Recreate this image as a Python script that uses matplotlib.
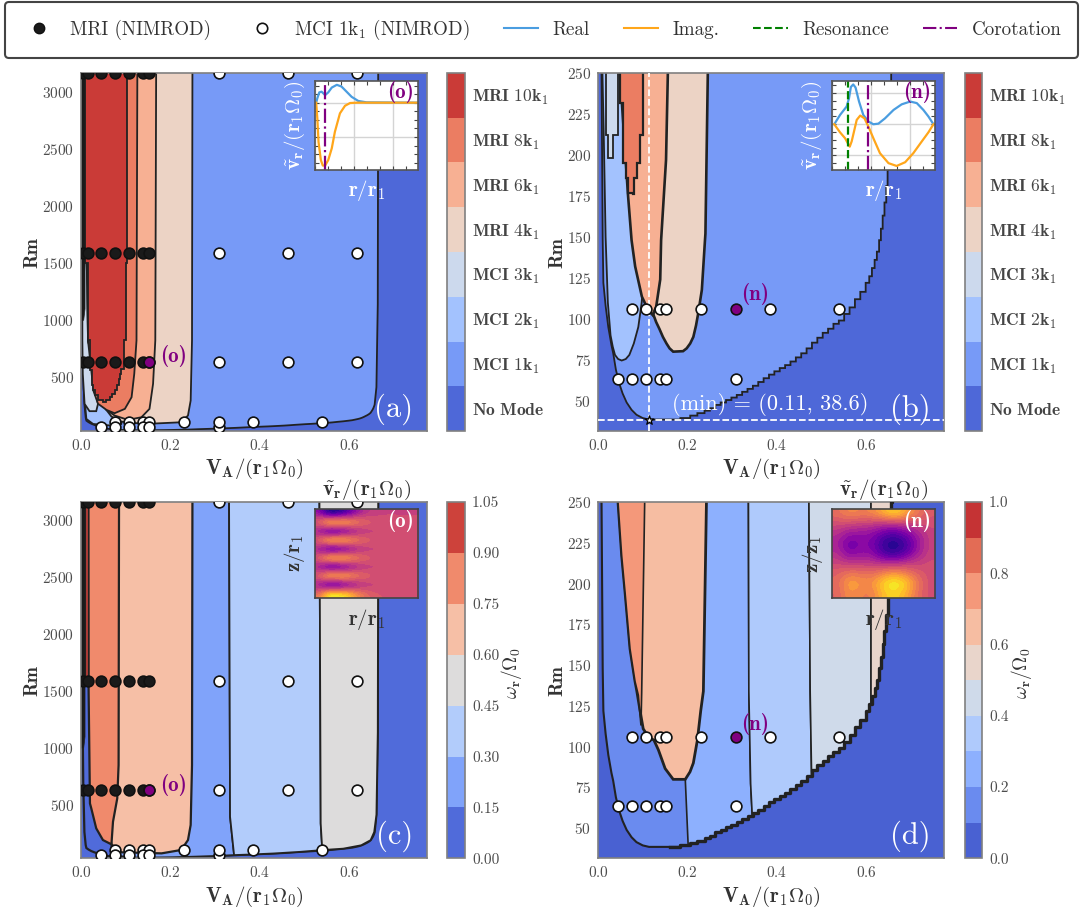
import numpy as np
import matplotlib
matplotlib.use("Agg")
import matplotlib.pyplot as plt
from matplotlib.cm import ScalarMappable
from matplotlib.colors import BoundaryNorm, ListedColormap
from matplotlib.lines import Line2D
from matplotlib.ticker import AutoMinorLocator

plt.rcParams['font.family'] = 'cmr10'
plt.rcParams['mathtext.fontset'] = 'cm'
plt.rcParams['axes.formatter.use_mathtext'] = True
plt.rcParams['axes.unicode_minus'] = False

# sample points, (VA, Rm)
rm_rows_high = [3162, 1585, 631]
va_mri = [0.004, 0.015, 0.045, 0.077, 0.107, 0.138, 0.153]
va_mci_high = [0.308, 0.462, 0.616]
va_row106 = [0.077, 0.107, 0.138, 0.153, 0.231, 0.385, 0.539]
va_row63 = [0.045, 0.077, 0.107, 0.138, 0.153, 0.308]
rm_row106 = 106
rm_row63 = 63.5
point_o = (0.153, 631)
point_n = (0.308, 106)
rm_min = (0.113, 38.6)

# edge of the unstable domain (a) and (b)
outer_left = [(0.002, 3300), (0.003, 1500), (0.005, 700), (0.0076, 262), (0.0105, 148), (0.012, 122),
              (0.017, 108), (0.023, 95), (0.03, 84), (0.034, 79), (0.04, 69), (0.047, 61), (0.055, 54.5), (0.064, 49),
              (0.075, 44.5), (0.086, 41.5), (0.1, 39.5), (0.114, 38.6)]
outer_right = [(0.161, 38.6), (0.184, 39.5), (0.206, 41), (0.222, 42.5), (0.238, 44), (0.25, 45.5), (0.262, 47.5),
               (0.274, 49), (0.286, 50.5), (0.298, 52), (0.31, 53.6), (0.322, 55.5), (0.334, 57.3), (0.346, 59.2),
               (0.358, 61.5), (0.37, 63.8), (0.382, 66), (0.394, 68), (0.406, 70), (0.418, 71.8), (0.43, 74),
               (0.442, 76.5), (0.454, 79), (0.466, 82), (0.478, 85.5), (0.49, 88.5), (0.502, 91.5), (0.514, 94),
               (0.526, 97), (0.538, 99), (0.55, 103), (0.562, 107), (0.574, 112), (0.586, 116.5), (0.598, 122),
               (0.606, 126), (0.612, 131), (0.618, 136), (0.623, 141), (0.628, 148), (0.632, 155), (0.636, 163),
               (0.64, 171), (0.644, 181), (0.647, 191), (0.649, 203), (0.651, 215), (0.653, 230), (0.655, 250),
               (0.656, 262)]
outer_high = [(0.66, 415), (0.663, 1140), (0.664, 3300)]

# panel (a), Rm up to 3162
a_3k = [(0.003, 1800), (0.003, 824), (0.004, 532), (0.008, 269), (0.019, 205), (0.034, 205), (0.038, 269),
        (0.03, 400), (0.012, 1500), (0.006, 1800)]
a_2k = [(0.003, 3300), (0.004, 1200), (0.006, 400), (0.012, 137), (0.027, 93), (0.068, 79), (0.09, 93),
        (0.1, 300), (0.02, 1000), (0.006, 3300)]
a_4k = [(0.249, 3300), (0.248, 824), (0.245, 298), (0.239, 167), (0.224, 108), (0.142, 93), (0.09, 114),
        (0.068, 158), (0.05, 250), (0.0156, 824), (0.01, 3300)]
a_6k = [(0.168, 3300), (0.166, 824), (0.161, 444), (0.153, 225), (0.135, 152), (0.105, 129), (0.075, 167),
        (0.057, 216), (0.05, 300), (0.0156, 824), (0.008, 3300)]
a_8k = [(0.126, 3300), (0.124, 824), (0.119, 532), (0.113, 327), (0.098, 225), (0.075, 187), (0.057, 216),
        (0.038, 270), (0.028, 380), (0.0156, 824), (0.008, 3300)]
a_10k_left = [(0.008, 3300), (0.008, 2750), (0.009, 1500), (0.0156, 824), (0.019, 561), (0.024, 430),
              (0.027, 386), (0.032, 345), (0.038, 304), (0.049, 289)]
a_10k_right = [(0.049, 289), (0.056, 300), (0.064, 327), (0.07, 355), (0.075, 386), (0.08, 430), (0.084, 488),
               (0.088, 530), (0.09, 576), (0.096, 824), (0.1, 1500), (0.102, 3300)]

# panel (b), Rm up to 250
b_2k = [(0.009, 262), (0.013, 210), (0.017, 150), (0.022, 110), (0.028, 90), (0.033, 83), (0.038, 78), (0.045, 75.5),
        (0.053, 74.6), (0.062, 75.5), (0.07, 78), (0.08, 85), (0.09, 95), (0.0976, 110), (0.105, 140), (0.06, 262)]
b_3k = [(0.017, 262), (0.017, 212), (0.023, 212), (0.023, 198), (0.034, 198), (0.034, 212), (0.044, 212), (0.044, 262)]
b_4k = [(0.246, 262), (0.24, 152), (0.239, 148), (0.232, 117.7), (0.224, 103.6), (0.219, 96), (0.213, 89),
        (0.206, 85), (0.198, 82), (0.19, 80.3), (0.168, 80), (0.16, 82), (0.153, 85), (0.145, 89), (0.137, 94),
        (0.13, 98), (0.124, 102.4), (0.13, 262)]
b_6k = [(0.157, 262), (0.152, 197), (0.141, 148), (0.139, 124), (0.13, 107.5), (0.122, 102.4), (0.112, 105.5),
        (0.098, 113.6), (0.083, 132), (0.075, 148), (0.0669, 176), (0.0461, 262)]
b_8k = [(0.0461, 262), (0.0492, 231.5), (0.0553, 194.9), (0.063, 185.8), (0.0669, 176.7), (0.0785, 176),
        (0.08, 185.8), (0.0862, 194.9), (0.0939, 212.2), (0.1, 231.5), (0.1016, 262)]

# panel (c), regions sharing the outer edge
c_15 = [(0.342, 60), (0.31, 53.6), (0.257, 46.5), (0.206, 41), (0.161, 38.6), (0.114, 38.6), (0.068, 60),
        (0.068, 154), (0.1, 300), (0.2, 3300), (0.3307, 3300), (0.333, 397)]
c_30 = [(0.3307, 3300), (0.333, 397), (0.342, 60), (0.37, 63.8), (0.43, 74), (0.49, 88.5), (0.539, 104),
        (0.5355, 338), (0.5326, 3300)]
c_45 = [(0.5326, 3300), (0.5355, 338), (0.539, 104), (0.586, 116.5), (0.626, 146), (0.647, 191), (0.655, 262),
        (0.66, 415), (0.663, 1140), (0.664, 3300)]
c_60 = [(0.249, 3300), (0.248, 851), (0.245, 324), (0.239, 192), (0.224, 105), (0.18, 75), (0.09, 84),
        (0.068, 154), (0.06, 300), (0.085, 3300)]
c_75 = [(0.0164, 3300), (0.017, 1509), (0.02, 514), (0.023, 470), (0.034, 295), (0.049, 192), (0.068, 154),
        (0.0715, 353), (0.081, 558), (0.084, 851), (0.085, 3300)]
c_90 = [(0.008, 3300), (0.008, 1600), (0.0164, 1600), (0.0164, 3300)]
c_dark = [(0.0, 3300), (0.009, 3300), (0.009, 1100), (0.006, 1000), (0.0, 1000)]

# panel (d), lower edges run below the outer stairs and get clipped to them
d_20 = [(0.202, 36), (0.195, 80), (0.17, 262), (0.336, 262), (0.337, 134), (0.341, 77.4), (0.346, 50),
        (0.31, 45), (0.257, 38)]
d_30 = [(0.336, 262), (0.337, 134), (0.341, 77.4), (0.346, 50), (0.382, 57), (0.43, 65), (0.478, 76),
        (0.477, 85.5), (0.474, 134), (0.471, 262)]
d_40 = [(0.471, 262), (0.474, 134), (0.477, 85.5), (0.478, 76), (0.526, 88), (0.574, 103), (0.61, 120), (0.61, 262)]
d_50 = [(0.61, 262), (0.61, 120), (0.67, 120), (0.67, 262)]
d_60 = [(0.243, 262), (0.2354, 134), (0.2295, 122), (0.222, 104), (0.213, 90), (0.2056, 84.6), (0.195, 80),
        (0.168, 80), (0.15, 86.6), (0.135, 98), (0.125, 104), (0.1125, 106), (0.101, 111), (0.094, 122),
        (0.0864, 134.6), (0.0827, 140), (0.0715, 160), (0.0603, 195), (0.0529, 217), (0.0417, 262)]
d_70 = [(0.0417, 262), (0.0529, 217), (0.0603, 195), (0.0715, 160), (0.0827, 140), (0.0901, 131.6), (0.096, 113),
        (0.0976, 133), (0.105, 262)]

# inset curves
o_r_real = [1.03, 1.06, 1.11, 1.17, 1.26, 1.34, 1.43, 1.56, 1.68, 1.81, 1.94, 2.11, 2.32, 3.65]
o_v_real = [0, 0.13, 0.30, 0.32, 0.22, 0.30, 0.44, 0.52, 0.47, 0.32, 0.17, 0.05, 0.01, 0]
o_r_imag = [1.03, 1.06, 1.09, 1.15, 1.2, 1.26, 1.34, 1.43, 1.51, 1.64, 1.77, 1.9, 2.07, 3.65]
o_v_imag = [0, -0.46, -1.14, -1.67, -1.83, -1.83, -1.67, -1.33, -0.85, -0.31, -0.09, -0.01, 0, 0]
o_corot = 1.26
n_r_real = [1.05, 1.2, 1.37, 1.43, 1.48, 1.54, 1.6, 1.69, 1.8, 1.93, 2.06, 2.19, 2.36, 2.58, 2.79, 3.01, 3.18, 3.35, 3.48, 3.61]
n_v_real = [0, 0.3, 0.57, 0.83, 1.2, 1.28, 1.18, 0.73, 0.3, 0.09, 0, 0.02, 0.19, 0.46, 0.64, 0.73, 0.68, 0.46, 0.25, 0]
n_r_imag = [1.05, 1.2, 1.33, 1.4, 1.45, 1.5, 1.57, 1.63, 1.72, 1.83, 1.93, 2.06, 2.23, 2.45, 2.66, 2.88, 3.09, 3.31, 3.48, 3.61]
n_v_imag = [0, -0.26, -0.45, -0.61, -0.72, -0.55, -0.18, 0.14, 0.28, 0.19, -0.07, -0.45, -0.93, -1.25, -1.34, -1.22, -0.93, -0.55, -0.26, 0]
n_reson = 1.4
n_corot = 1.91

# eigenmode maps
o_high = [0.65, 1.0, 1.0, 0.96, 0.8, 0.66, 0.58, 0.55, 0.54, 0.53, 0.53, 0.53]
o_low = [0.3, 0.0, 0.0, 0.1, 0.25, 0.4, 0.46, 0.48, 0.49, 0.49, 0.49, 0.49]
o_field = [o_low, o_high, o_low, o_high, o_low, o_high, o_low, o_high, o_low, o_high]
n_field = [[0.62, 0.72, 0.68, 0.70, 0.82, 0.92, 0.78, 0.66, 0.55],
           [0.52, 0.50, 0.48, 0.46, 0.42, 0.42, 0.46, 0.50, 0.52],
           [0.42, 0.32, 0.32, 0.30, 0.20, 0.15, 0.25, 0.36, 0.48],
           [0.38, 0.20, 0.28, 0.26, 0.08, 0.02, 0.12, 0.32, 0.48],
           [0.42, 0.26, 0.32, 0.30, 0.14, 0.08, 0.20, 0.36, 0.48],
           [0.50, 0.46, 0.46, 0.46, 0.42, 0.42, 0.46, 0.48, 0.52],
           [0.58, 0.66, 0.64, 0.62, 0.70, 0.76, 0.68, 0.58, 0.52],
           [0.60, 0.80, 0.74, 0.72, 0.92, 1.00, 0.90, 0.66, 0.52],
           [0.58, 0.74, 0.68, 0.66, 0.85, 0.90, 0.80, 0.62, 0.52]]

mode_labels = [r'$\mathbf{No\ Mode}$', r'$\mathbf{MCI\ 1k_1}$', r'$\mathbf{MCI\ 2k_1}$', r'$\mathbf{MCI\ 3k_1}$',
               r'$\mathbf{MRI\ 4k_1}$', r'$\mathbf{MRI\ 6k_1}$', r'$\mathbf{MRI\ 8k_1}$', r'$\mathbf{MRI\ 10k_1}$']
c_ticks = [0.0, 0.15, 0.30, 0.45, 0.60, 0.75, 0.90, 1.05]
d_ticks = [0.0, 0.2, 0.4, 0.6, 0.8, 1.0]
rm_ticks_a = [500, 1000, 1500, 2000, 2500, 3000]
rm_ticks_b = [50, 75, 100, 125, 150, 175, 200, 225, 250]
va_ticks = [0.0, 0.2, 0.4, 0.6]

W, H = 1080, 908
LINE = '#222222'
GREY = '#4d4d4d'
BLUE = '#4a9de0'
ORANGE = '#ffa61a'
PURPLE = '#800080'
VA_LABEL = r'$\mathbf{V_A/(r_1\Omega_0)}$'
VR_LABEL = r'$\mathbf{\tilde{v}_r/(r_1\Omega_0)}$'

fig = plt.figure(figsize=(W / 100, H / 100), dpi=100)


def px_axes(x0, y0, x1, y1):
    # pixel box, y measured from the top of the figure
    return fig.add_axes([x0 / W, 1 - y1 / H, (x1 - x0) / W, (y1 - y0) / H])


def stairs(points):
    out = [points[0]]
    for (x0, y0), (x1, y1) in zip(points[:-1], points[1:]):
        out.append((x1, y0))
        out.append((x1, y1))
    return out


def region(ax, points, color, lw=1.3, clip=None):
    xs, ys = zip(*points)
    poly = ax.fill(xs, ys, facecolor=color, edgecolor=LINE, linewidth=lw, joinstyle='miter')[0]
    if clip is not None:
        poly.set_clip_path(clip)
    return poly


def main_axes(box, cmap, ylim, yticks):
    ax = px_axes(*box)
    ax.set_facecolor(cmap(0))
    ax.set_xlim(0, 0.773)
    ax.set_ylim(*ylim)
    ax.set_xticks(va_ticks)
    ax.set_yticks(yticks)
    ax.tick_params(length=0, labelsize=11, labelcolor=GREY, pad=5)
    for s in ax.spines.values():
        s.set_color('#808080')
        s.set_linewidth(1.2)
    ax.set_xlabel(VA_LABEL, fontsize=15, color='#333333', labelpad=3)
    ax.set_ylabel('Rm', fontsize=14, color='#333333', fontname='cmb10', labelpad=0.5)
    return ax


def dots(ax, xs, ys, face):
    ax.scatter(xs, ys, s=60, c=face, edgecolors='#111111', linewidths=1.2, zorder=5)


def points_low(ax, purple_row=True):
    dots(ax, va_row106, [rm_row106] * len(va_row106), 'white')
    dots(ax, va_row63, [rm_row63] * len(va_row63), 'white')
    if purple_row:
        dots(ax, [point_n[0]], [point_n[1]], PURPLE)


def points_high(ax):
    for rm in rm_rows_high:
        dots(ax, va_mri, [rm] * len(va_mri), '#1a1a1a')
        dots(ax, va_mci_high, [rm] * len(va_mci_high), 'white')
    points_low(ax, False)
    dots(ax, [point_n[0]], [rm_row106], 'white')
    dots(ax, [point_o[0]], [point_o[1]], PURPLE)


def panel_letter(ax, text):
    ax.text(0.96, 0.062, text, transform=ax.transAxes, ha='right', va='center', color='white', fontsize=22, zorder=7)


def tag(ax, x, y, text):
    ax.text(x, y, text, color=PURPLE, fontsize=15, fontname='cmb10', ha='center', va='center', zorder=7)


def colorbar(ax_box, cmap, bounds, ticks, labels=None, label=None):
    cax = px_axes(*ax_box)
    sm = ScalarMappable(norm=BoundaryNorm(bounds, cmap.N), cmap=cmap)
    cb = fig.colorbar(sm, cax=cax, spacing='proportional', ticks=ticks)
    cb.ax.minorticks_off()
    cb.outline.set_edgecolor('#808080')
    cb.outline.set_linewidth(1.2)
    cb.ax.tick_params(which='both', length=0, labelsize=11, labelcolor=GREY, pad=5)
    if labels is not None:
        cb.ax.set_yticklabels(labels, fontsize=12.6, color='#444444')
    else:
        cb.ax.set_yticklabels(['%.2f' % t if len(bounds) == 8 else '%.1f' % t for t in ticks])
    if label:
        cb.set_label(label, fontsize=14, color='#333333', labelpad=0, y=0.52)
    return cb


def line_inset(box, r_real, v_real, r_imag, v_imag, ylim, yticks, label, corot, reson=None):
    ax = px_axes(*box)
    ax.set_zorder(10)
    ax.set_facecolor('white')
    ax.set_xlim(1, 3.65)
    ax.set_ylim(*ylim)
    ax.set_xticks([1, 2, 3])
    ax.set_yticks(yticks)
    ax.set_xticklabels([])
    ax.set_yticklabels([])
    ax.xaxis.set_minor_locator(AutoMinorLocator(3))
    ax.yaxis.set_minor_locator(AutoMinorLocator(4))
    ax.tick_params(which='both', direction='in', top=True, right=True, color='#444444', length=3, width=0.8)
    ax.grid(True, color='#d4d4d4', linewidth=1)
    ax.set_axisbelow(True)
    ax.plot(r_real, v_real, color=BLUE, lw=1.6)
    ax.plot(r_imag, v_imag, color=ORANGE, lw=1.6)
    if reson is not None:
        ax.axvline(reson, color='green', ls='--', lw=1.6)
    ax.axvline(corot, color=PURPLE, ls='-.', lw=1.6)
    for s in ax.spines.values():
        s.set_color('#555555')
        s.set_linewidth(1.2)
    ax.text(0.96, 0.87, label, transform=ax.transAxes, ha='right', va='center', color=PURPLE, fontsize=15, fontname='cmb10')
    ax.text(-0.195, 0.5, VR_LABEL, transform=ax.transAxes, rotation=90, ha='center', va='center', color='white', fontsize=15, zorder=20)
    ax.text(0.5, -0.225, r'$\mathbf{r/r_1}$', transform=ax.transAxes, ha='center', va='center', color='white', fontsize=15, zorder=20)
    return ax


def field_inset(box, field, label, ylab):
    ax = px_axes(*box)
    ax.set_zorder(10)
    ax.imshow(field, cmap=plt.get_cmap('plasma', 22), vmin=0, vmax=1, aspect='auto',
              interpolation='bicubic', interpolation_stage='data')
    ax.set_xticks([])
    ax.set_yticks([])
    for s in ax.spines.values():
        s.set_color('#444444')
        s.set_linewidth(1.2)
    ax.text(0.96, 0.87, label, transform=ax.transAxes, ha='right', va='center', color='white', fontsize=15, fontname='cmb10')
    ax.text(0.5, 1.22, VR_LABEL, transform=ax.transAxes, ha='center', va='center', color='#333333', fontsize=15, zorder=20)
    ax.text(-0.195, 0.5, ylab, transform=ax.transAxes, rotation=90, ha='center', va='center', color='#333333', fontsize=15, zorder=20)
    ax.text(0.5, -0.245, r'$\mathbf{r/r_1}$', transform=ax.transAxes, ha='center', va='center', color='#333333', fontsize=15, zorder=20)
    return ax


cmap_a = ListedColormap(plt.get_cmap('coolwarm')((np.arange(8) + 0.5) / 8))
cmap_c = ListedColormap(plt.get_cmap('coolwarm')((np.arange(7) + 0.5) / 7))
cmap_d = ListedColormap(plt.get_cmap('coolwarm')((np.arange(10) + 0.5) / 10))

# (a)
ax = main_axes((81, 73, 427, 431), cmap_a, (31.6, 3162), rm_ticks_a)
region(ax, outer_left + outer_right + outer_high, cmap_a(1))
region(ax, a_2k, cmap_a(2))
region(ax, a_3k, cmap_a(3))
region(ax, a_4k, cmap_a(4))
region(ax, a_6k, cmap_a(5))
region(ax, a_8k, cmap_a(6))
region(ax, stairs(a_10k_left) + stairs(a_10k_right), cmap_a(7))
region(ax, c_dark, '#1a1a1a', lw=0.5)
points_high(ax)
tag(ax, 0.206, 687, '(o)')
panel_letter(ax, '(a)')
colorbar((447, 73, 465, 431), cmap_a, np.arange(9), np.arange(8) + 0.5, labels=mode_labels)
line_inset((315, 80.7, 418.3, 170), o_r_real, o_v_real, o_r_imag, o_v_imag, (-1.96, 0.64), [-1, 0], '(o)', o_corot)

# (b)
ax = main_axes((598, 73, 944, 431), cmap_a, (31.6, 250), rm_ticks_b)
region(ax, outer_left + stairs(outer_right), cmap_a(1))
region(ax, b_2k, cmap_a(2))
region(ax, b_3k, cmap_a(3))
region(ax, b_4k, cmap_a(4), lw=1.9)
region(ax, b_6k, cmap_a(5), lw=1.9)
region(ax, stairs(b_8k), cmap_a(6), lw=1.6)
ax.axvline(rm_min[0], color='white', ls='--', lw=1.3, zorder=4)
ax.axhline(rm_min[1], color='white', ls='--', lw=1.3, zorder=4)
ax.scatter([rm_min[0]], [rm_min[1]], marker='*', s=45, c='white', edgecolors='black', linewidths=0.9, zorder=6)
points_low(ax)
tag(ax, 0.352, 115, '(n)')
ax.text(0.497, 0.073, '(min) = (0.11, 38.6)', transform=ax.transAxes, color='white', fontsize=16, ha='center', va='center', zorder=7)
panel_letter(ax, '(b)')
colorbar((965, 73, 982, 431), cmap_a, np.arange(9), np.arange(8) + 0.5, labels=mode_labels)
line_inset((832.3, 80.7, 935, 170), n_r_real, n_v_real, n_r_imag, n_v_imag, (-1.47, 1.4), [-1, 0, 1], '(n)', n_corot, reson=n_reson)

# (c)
ax = main_axes((81, 502, 427, 858.3), cmap_c, (31.6, 3162), rm_ticks_a)
region(ax, outer_left + outer_right + outer_high, cmap_c(0), lw=1.6)
region(ax, c_15, cmap_c(1))
region(ax, c_30, cmap_c(2))
region(ax, c_45, cmap_c(3))
region(ax, c_60, cmap_c(4), lw=1.6)
region(ax, c_75, cmap_c(5), lw=1.6)
region(ax, c_90, cmap_c(6), lw=1)
region(ax, c_dark, '#1a1a1a', lw=0.5)
points_high(ax)
tag(ax, 0.206, 675, '(o)')
panel_letter(ax, '(c)')
colorbar((447, 502, 465, 858.3), cmap_c, np.array(c_ticks), c_ticks, label=r'$\omega_{\mathbf{r}}/\mathbf{\Omega_0}$')
field_inset((315, 509.3, 418.3, 598), o_field, '(o)', r'$\mathbf{z/r_1}$')

# (d)
ax = main_axes((598, 502, 944, 858.3), cmap_d, (31.6, 250), rm_ticks_b)
outer_d = region(ax, outer_left + stairs(outer_right), cmap_d(1), lw=1.5)
region(ax, d_20, cmap_d(2), lw=1.2, clip=outer_d)
region(ax, d_30, cmap_d(3), lw=1.2, clip=outer_d)
region(ax, d_40, cmap_d(4), lw=1.2, clip=outer_d)
region(ax, d_50, cmap_d(5), lw=1.2, clip=outer_d)
region(ax, d_60, cmap_d(6), lw=2)
region(ax, d_70, cmap_d(7), lw=1.2)
ax.plot(*zip(*stairs(outer_right)), color=LINE, lw=2.4, zorder=3)
points_low(ax)
tag(ax, 0.352, 114, '(n)')
panel_letter(ax, '(d)')
colorbar((965, 502, 982, 858.3), cmap_d, np.arange(0, 1.01, 0.1), d_ticks, label=r'$\omega_{\mathbf{r}}/\mathbf{\Omega_0}$')
field_inset((832.3, 509.3, 935, 598), n_field, '(n)', r'$\mathbf{z/z_1}$')

# legend across the top
handles = [
    Line2D([0], [0], ls='none', marker='o', ms=7.5, mfc='#1a1a1a', mec='#111111', label='MRI (NIMROD)'),
    Line2D([0], [0], ls='none', marker='o', ms=7.5, mfc='white', mec='#111111', mew=1.2, label=r'MCI 1k$_1$ (NIMROD)'),
    Line2D([0], [0], color=BLUE, lw=1.5, label='Real'),
    Line2D([0], [0], color=ORANGE, lw=1.5, label='Imag.'),
    Line2D([0], [0], color='green', lw=1.5, ls='--', label='Resonance'),
    Line2D([0], [0], color=PURPLE, lw=1.5, ls='-.', label='Corotation'),
]
leg = fig.legend(handles=handles, loc='center', ncol=6, fontsize=13.7, frameon=True, fancybox=True,
                 bbox_to_anchor=(541.5 / W, 1 - 30 / H), labelcolor='#333333', borderaxespad=0,
                 handlelength=1.8, handletextpad=0.75, columnspacing=1.8, borderpad=0.85)
leg.get_frame().set_edgecolor('#444444')
leg.get_frame().set_linewidth(1.5)
leg.get_frame().set_alpha(1)

fig.savefig('out.png', dpi=100)
